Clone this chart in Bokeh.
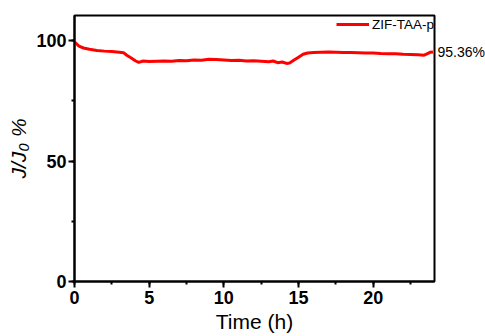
import numpy as np
from bokeh.plotting import figure
from bokeh.models import (Range1d, SingleIntervalTicker, FixedTicker, LinearAxis,
                          Legend, LegendItem, ColumnDataSource)
from bokeh.embed import file_html
from bokeh.resources import INLINE

# --- data ---
time_h = [0, 0.1, 0.3, 0.6, 1.0, 1.5, 2.0, 2.5, 3.0, 3.3, 3.5, 3.8, 4.1, 4.3, 4.6,
          5.0, 5.5, 6.0, 6.5, 7.0, 7.5, 8.0, 8.5, 9.0, 9.5, 10.0, 10.5, 11.0, 11.5,
          12.0, 12.5, 13.0, 13.3, 13.6, 13.9, 14.2, 14.4, 14.7, 15.0, 15.3, 15.6,
          16.0, 16.5, 17.0, 17.5, 18.0, 18.5, 19.0, 19.5, 20.0, 20.5, 21.0, 21.5,
          22.0, 22.5, 23.0, 23.4, 23.6, 23.8, 24.0]
j_ratio = [99.6, 98.9, 97.8, 97.0, 96.5, 96.0, 95.7, 95.5, 95.2, 95.0, 94.0, 92.8,
           91.6, 91.0, 91.6, 91.4, 91.5, 91.6, 91.5, 91.8, 91.7, 92.0, 91.9, 92.3,
           92.2, 92.0, 91.8, 91.9, 91.6, 91.7, 91.5, 91.3, 91.6, 90.9, 91.2, 90.6,
           90.8, 92.0, 93.2, 94.4, 94.9, 95.1, 95.2, 95.3, 95.2, 95.1, 95.1, 95.0,
           94.9, 94.9, 94.7, 94.6, 94.6, 94.4, 94.3, 94.2, 94.0, 94.6, 95.2, 95.36]
series_name = "ZIF-TAA-p"
end_value = 95.36
end_label = "95.36%"
x_label = "Time (h)"
y_label = "J/J\u2080 %"

FONT = "Liberation Sans"

p = figure(frame_width=360, frame_height=266, output_backend="svg",
           toolbar_location=None, x_range=Range1d(0, 24.1), y_range=Range1d(0, 110.5),
           min_border_left=74, min_border_right=51, min_border_top=15, min_border_bottom=55)
p.background_fill_color = "white"
p.border_fill_color = "white"
p.outline_line_color = "black"
p.outline_line_width = 2
p.grid.visible = False

src = ColumnDataSource(dict(t=time_h, j=j_ratio))
r = p.line("t", "j", source=src, line_color="#ff0000", line_width=3)

legend = Legend(items=[LegendItem(label=series_name, renderers=[r])],
                location="top_right", border_line_color=None,
                background_fill_alpha=0, margin=0, padding=4,
                label_text_font=FONT, label_text_font_size="13.5px",
                label_text_color="black",
                glyph_width=33, label_standoff=3, label_height=18, glyph_height=18)
p.add_layout(legend)

p.xaxis.ticker = SingleIntervalTicker(interval=5, num_minor_ticks=2)
p.yaxis.ticker = SingleIntervalTicker(interval=50, num_minor_ticks=2)
for ax in (p.xaxis[0], p.yaxis[0]):
    ax.axis_line_width = 2
    ax.axis_line_color = "black"
    ax.major_tick_line_width = 2
    ax.minor_tick_line_width = 2
    ax.major_tick_in = 0
    ax.major_tick_out = 6
    ax.minor_tick_in = 0
    ax.minor_tick_out = 3
    ax.major_label_text_font = FONT
    ax.major_label_text_font_style = "bold"
    ax.major_label_text_font_size = "18px"
    ax.major_label_text_color = "black"
    ax.major_label_standoff = 3
    ax.axis_label_text_color = "black"
p.xaxis.axis_label = x_label
p.xaxis.axis_label_text_font = FONT
p.xaxis.axis_label_text_font_style = "normal"
p.xaxis.axis_label_text_font_size = "21px"
p.xaxis.axis_label_standoff = 3
p.yaxis.major_label_standoff = 2
p.yaxis.axis_label = y_label
p.yaxis.axis_label_text_font = FONT
p.yaxis.axis_label_text_font_style = "italic"
p.yaxis.axis_label_text_font_size = "21px"
p.yaxis.axis_label_standoff = 3

# end value shown at the right edge via an unlined axis
right = LinearAxis(ticker=FixedTicker(ticks=[end_value]),
                   major_label_overrides={end_value: end_label},
                   axis_line_color=None, major_tick_line_color=None,
                   minor_tick_line_color=None, major_tick_in=0, major_tick_out=0,
                   major_label_standoff=3, major_label_text_font=FONT,
                   major_label_text_font_size="14px", major_label_text_color="black")
p.add_layout(right, "right")

open("out.html", "w").write(file_html(p, INLINE))
